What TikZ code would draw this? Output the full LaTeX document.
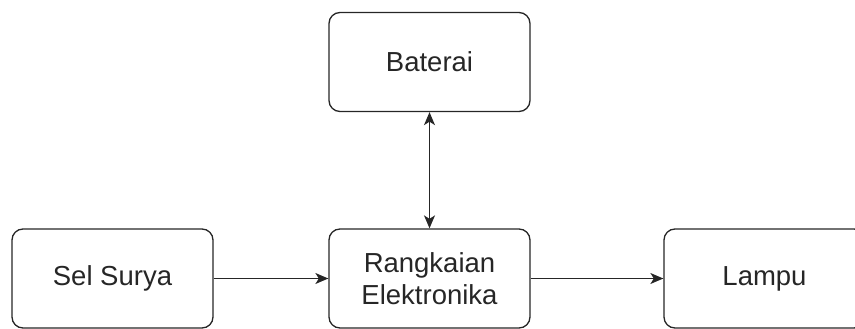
\documentclass[tikz,border=0pt]{standalone}
\usepackage{fontspec}
\setmainfont{Liberation Sans}
\usetikzlibrary{arrows.meta}
\begin{document}
\begin{tikzpicture}[x=1pt,y=-1pt,
  blk/.style={draw=black!85, line width=1.3pt, rounded corners=11pt,
    minimum width=201pt, minimum height=99pt, inner sep=0pt, align=center,
    font=\fontsize{27.5}{32}\selectfont, text=black!85},
  conn/.style={draw=black!85, line width=1.3pt},
  tip/.tip={Stealth[length=13pt,width=11pt,inset=3.5pt]}
  ]
\clip (0,0) rectangle (855,329);
\node[blk] (bat) at (429.5,62) {Baterai};
\node[blk] (sel) at (112.5,278.5) {Sel Surya};
\node[blk] (rang) at (429.5,278.5) {Rangkaian\\Elektronika};
\node[blk] (lam) at (764.5,278.5) {Lampu};
\draw[conn,{tip}-{tip}] (bat.south) -- (rang.north);
\draw[conn,-{tip}] (sel.east) -- (rang.west);
\draw[conn,-{tip}] (rang.east) -- (lam.west);
\end{tikzpicture}
\end{document}
